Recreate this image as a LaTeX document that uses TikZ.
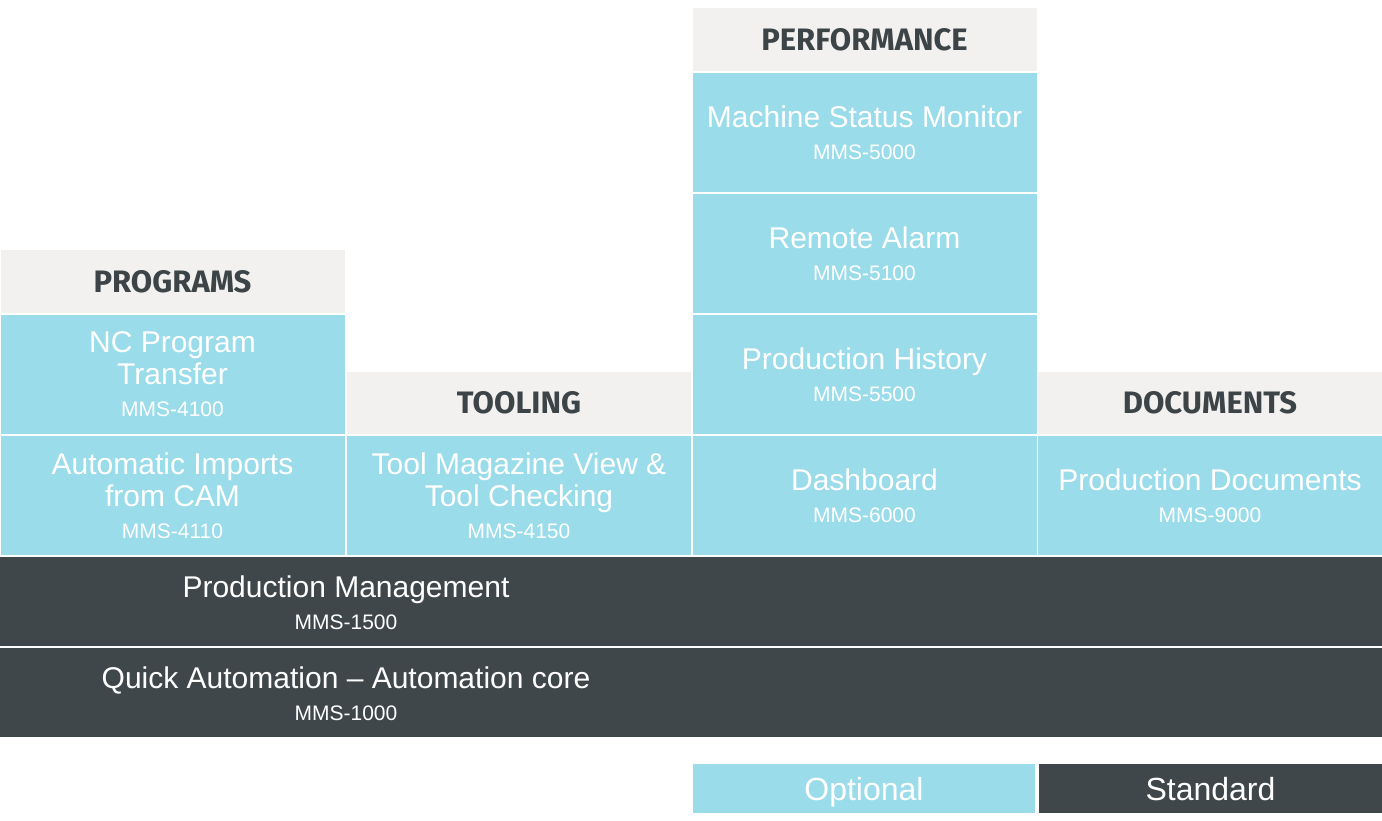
\documentclass[tikz,border=0pt]{standalone}
\usepackage{fontspec}
\setmainfont{Liberation Sans}
\newfontfamily\headfont{Fira Sans}
\definecolor{optblue}{HTML}{9BDCEA}
\definecolor{stddark}{HTML}{40474A}
\definecolor{headgray}{HTML}{F2F1EF}
\definecolor{headtext}{HTML}{3D4447}
\newcommand{\mmsno}[1]{{\fontsize{21}{25}\selectfont #1}}
\begin{document}
\begin{tikzpicture}[x=1pt,y=-1pt]
    \tikzstyle{opt}=[fill=optblue, text=white, minimum width=344pt, minimum height=119pt, inner sep=0pt, align=center, font=\fontsize{30}{32}\selectfont];
    \tikzstyle{head}=[fill=headgray, text=headtext, minimum width=344pt, minimum height=63pt, inner sep=0pt, font=\headfont\bfseries\fontsize{31}{34}\selectfont];
    \tikzstyle{std}=[fill=stddark, minimum width=1382pt, minimum height=89pt, inner sep=0pt];
    \tikzstyle{stdtext}=[text=white, inner sep=0pt, align=center, font=\fontsize{30}{32}\selectfont];
    \tikzstyle{legend}=[minimum width=343pt, minimum height=49pt, inner sep=0pt, text height=23pt, text depth=0pt, text=white, font=\fontsize{32}{36}\selectfont];

    \useasboundingbox (0,0) rectangle (1382,820);

    % programs
    \node (programs) at (172.5, 281.5) [head] {PROGRAMS};
    \node (nctransfer) at (172.5, 374.5) [opt] {NC Program\\Transfer\\\mmsno{MMS-4100}};
    \node (camimport) at (172.5, 495.5) [opt] {Automatic Imports\\from CAM\\\mmsno{MMS-4110}};

    % tooling
    \node (tooling) at (519, 403) [head, minimum height=62pt] {TOOLING};
    \node (toolmag) at (519, 495.5) [opt] {Tool Magazine View \&\\Tool Checking\\\mmsno{MMS-4150}};

    % performance
    \node (performance) at (864.5, 39.5) [head] {PERFORMANCE};
    \node (statusmon) at (864.5, 132.5) [opt] {Machine Status Monitor\\\mmsno{MMS-5000}};
    \node (alarm) at (864.5, 253.5) [opt] {Remote Alarm\\\mmsno{MMS-5100}};
    \node (history) at (864.5, 374.5) [opt] {Production History\\\mmsno{MMS-5500}};
    \node (dashboard) at (864.5, 495.5) [opt] {Dashboard\\\mmsno{MMS-6000}};

    % documents
    \node (documents) at (1210, 403) [head, minimum height=62pt] {DOCUMENTS};
    \node (proddocs) at (1210, 495.5) [opt] {Production Documents\\\mmsno{MMS-9000}};

    % standard rows
    \node (prodmgmt) at (691, 601.5) [std] {};
    \node (prodmgmttext) at (346, 603) [stdtext] {Production Management\\\mmsno{MMS-1500}};
    \node (autocore) at (691, 692.5) [std] {};
    \node (autocoretext) at (346, 694) [stdtext] {Quick Automation -- Automation core\\\mmsno{MMS-1000}};

    % legend
    \node (optional) at (864, 788.5) [legend, fill=optblue, minimum width=342pt] {Optional};
    \node (standard) at (1210.5, 788.5) [legend, fill=stddark] {Standard};
\end{tikzpicture}
\end{document}
